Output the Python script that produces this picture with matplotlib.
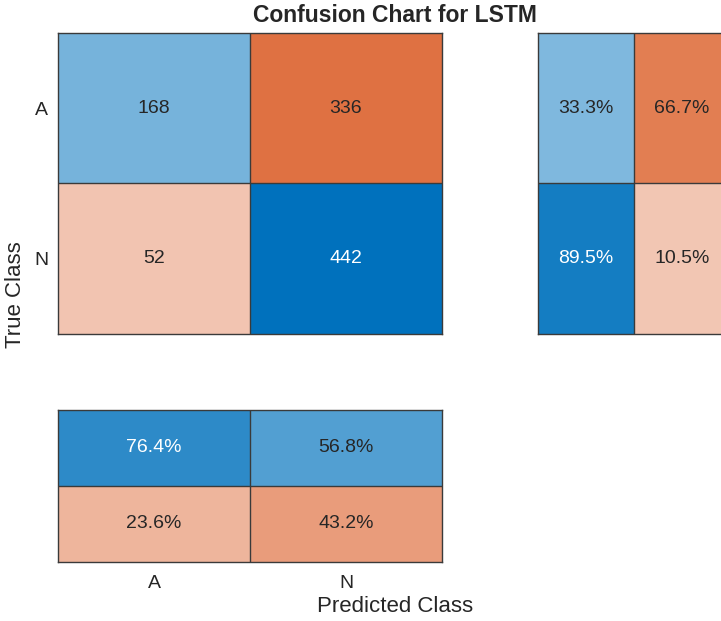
import numpy as np
import matplotlib.pyplot as plt

plt.rcParams['font.family'] = ['Liberation Sans', 'DejaVu Sans']

classes = ["A", "N"]
counts = np.array([[168, 336],
                   [52, 442]])

# row summary: share of each true class predicted correctly / incorrectly
row_correct = np.diag(counts) / counts.sum(axis=1) * 100
row_summary = np.column_stack([row_correct, 100 - row_correct])
# column summary: share of each predicted class that is correct / incorrect
col_correct = np.diag(counts) / counts.sum(axis=0) * 100
col_summary = np.vstack([col_correct, 100 - col_correct])

BLUE = np.array([0, 114, 189]) / 255
ORANGE = np.array([217, 83, 25]) / 255
EDGE = "#3a3a3a"
DARK_TEXT = "#262626"


def shade(base, frac):
    f = 0.25 + 0.75 * frac
    return 1 - f * (1 - base)


def text_color(rgb):
    lum = 0.299 * rgb[0] + 0.587 * rgb[1] + 0.114 * rgb[2]
    return "white" if lum < 0.51 else DARK_TEXT


def draw_grid(ax, values, is_diag, labels, fontsize=14):
    nr, nc = values.shape
    img = np.zeros((nr, nc, 3))
    for i in range(nr):
        for j in range(nc):
            base = BLUE if is_diag[i, j] else ORANGE
            img[i, j] = shade(base, values[i, j])
    ax.imshow(img, extent=(0, nc, nr, 0), aspect="auto", interpolation="nearest")
    for i in range(nr):
        for j in range(nc):
            ax.text(j + 0.5, i + 0.5, labels[i][j], ha="center", va="center",
                    fontsize=fontsize, color=text_color(img[i, j]))
    for k in range(1, nc):
        ax.axvline(k, color=EDGE, lw=1.0)
    for k in range(1, nr):
        ax.axhline(k, color=EDGE, lw=1.0)
    ax.set_xlim(0, nc)
    ax.set_ylim(nr, 0)
    for s in ax.spines.values():
        s.set_color(EDGE)
        s.set_linewidth(1.0)
    ax.tick_params(length=0)
    ax.set_xticks([])
    ax.set_yticks([])


W, H = 721, 621
fig = plt.figure(figsize=(W / 100, H / 100), dpi=100)


def px_axes(x0, y0, x1, y1):
    return fig.add_axes([x0 / W, 1 - y1 / H, (x1 - x0) / W, (y1 - y0) / H])


# main confusion matrix
ax_main = px_axes(58, 33, 442, 334)
diag = np.eye(2, dtype=bool)
draw_grid(ax_main, counts / counts.max(), diag,
          [[str(v) for v in row] for row in counts], fontsize=14)
ax_main.set_yticks([0.5, 1.5])
ax_main.set_yticklabels(classes, fontsize=14, color=DARK_TEXT)
ax_main.tick_params(axis="y", pad=7)

# row summary on the right
ax_row = px_axes(538, 33, 730, 334)
row_diag = np.array([[True, False], [True, False]])
draw_grid(ax_row, row_summary / 100, row_diag,
          [[f"{v:.1f}%" for v in row] for row in row_summary], fontsize=14)

# column summary below
ax_col = px_axes(58, 410, 442, 562)
col_diag = np.array([[True, True], [False, False]])
draw_grid(ax_col, col_summary / 100, col_diag,
          [[f"{v:.1f}%" for v in row] for row in col_summary], fontsize=14)
ax_col.set_xticks([0.5, 1.5])
ax_col.set_xticklabels(classes, fontsize=14, color=DARK_TEXT)
ax_col.tick_params(axis="x", pad=9)

fig.text(395 / W, 1 - 16 / H, "Confusion Chart for LSTM", ha="center", va="center",
         fontsize=16.5, fontweight="bold", color=DARK_TEXT)
fig.text(16 / W, 1 - 295 / H, "True Class", ha="center", va="center",
         rotation=90, fontsize=16, color=DARK_TEXT)
fig.text(395 / W, 1 - 606 / H, "Predicted Class", ha="center", va="center",
         fontsize=16, color=DARK_TEXT)

fig.savefig("out.png", dpi=100)
